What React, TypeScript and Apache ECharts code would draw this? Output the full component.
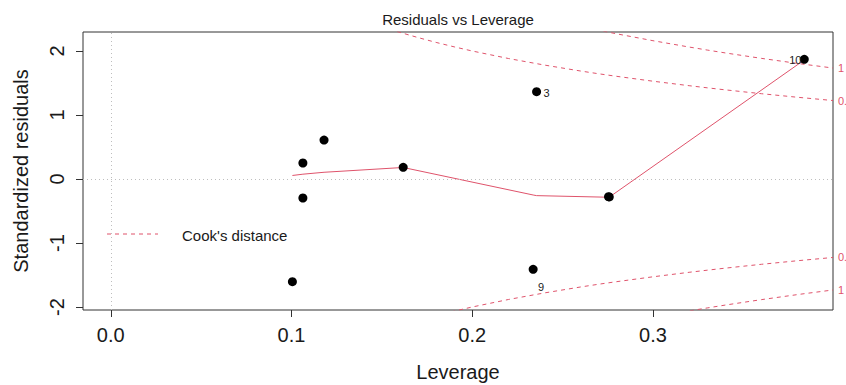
import React, { useEffect, useRef } from "react";
import * as echarts from "echarts";

// Observations (leverage, standardized residual), sorted by leverage
const leverage = [0.1005, 0.1063, 0.1063, 0.118, 0.1618, 0.2337, 0.2356, 0.2754, 0.2758, 0.3837];
const stdResid = [-1.605, 0.25, -0.297, 0.609, 0.183, -1.411, 1.364, -0.276, -0.28, 1.87];
const pointLabels = ["", "", "", "", "", "9", "3", "", "", "10"];

// Smoother (red solid line) vertices
const smoothX = [0.1005, 0.1063, 0.118, 0.1618, 0.2337, 0.2356, 0.2754, 0.2758, 0.3837];
const smoothY = [0.055, 0.075, 0.105, 0.18, -0.25, -0.26, -0.285, -0.284, 1.86];

// Cook's distance contours (upper halves) at 0.5 and 1
const cookH = [0.15, 0.16, 0.17, 0.18, 0.19, 0.2, 0.22, 0.24, 0.26, 0.27, 0.28, 0.3, 0.32, 0.33, 0.34, 0.36, 0.38, 0.3996];
const cook05 = [2.38, 2.291, 2.21, 2.134, 2.065, 2.0, 1.883, 1.78, 1.687, 1.644, 1.604, 1.528, 1.458, 1.425, 1.393, 1.333, 1.277, 1.226];
const cook1 = [3.366, 3.24, 3.125, 3.018, 2.92, 2.828, 2.663, 2.517, 2.386, 2.325, 2.268, 2.161, 2.062, 2.015, 1.97, 1.885, 1.806, 1.734];
const cookLevels = ["0.5", "1"];

// Axes
const xTicks = [0, 0.1, 0.2, 0.3];
const yTicks = [-2, -1, 0, 1, 2];
const X_MIN = -0.01536;
const X_MAX = 0.3996;
const Y_MIN = -2.047;
const Y_MAX = 2.297;

const title = "Residuals vs Leverage";
const xName = "Leverage";
const yName = "Standardized residuals";
const legendText = "Cook's distance";

const FONT = "'Liberation Sans', Arial, sans-serif";
const RED = "#DF536B";
const INK = "#1a1a1a";

const labelOffsets: Record<string, number[]> = {
  "9": [8, 18],
  "3": [10, 1],
  "10": [-9, 1],
};

export default function App() {
  const ref = useRef<HTMLDivElement>(null);
  useEffect(() => {
    if (!ref.current) return;
    const chart = echarts.init(ref.current, null, { renderer: "svg" });

    const points = leverage.map((h, i) => {
      const lab = pointLabels[i];
      const item: any = { value: [h, stdResid[i]] };
      if (lab) {
        item.label = {
          show: true,
          formatter: lab,
          position: "inside",
          offset: labelOffsets[lab],
          fontSize: 11,
          color: "#222",
          fontFamily: FONT,
        };
      }
      return item;
    });

    const cookSeries: any[] = [];
    [cook05, cook1].forEach((vals, k) => {
      [1, -1].forEach((sgn) => {
        cookSeries.push({
          type: "line",
          data: cookH.map((h, i) => [h, sgn * vals[i]]),
          showSymbol: false,
          symbol: "none",
          lineStyle: { color: RED, width: 1, type: [4, 4] },
          endLabel: {
            show: true,
            formatter: cookLevels[k],
            color: RED,
            fontSize: 11,
            fontFamily: FONT,
            distance: 5,
          },
          silent: true,
          z: 3,
        });
      });
    });

    const option: any = {
      animation: false,
      textStyle: { fontFamily: FONT },
      grid: {
        left: 83,
        top: 32,
        width: 750,
        height: 278,
        show: true,
        borderColor: "#333",
        borderWidth: 1,
        containLabel: false,
        outerBoundsMode: "none",
      },
      xAxis: {
        type: "value",
        min: X_MIN,
        max: X_MAX,
        axisLine: { show: false, onZero: false },
        splitLine: { show: false },
        axisTick: { show: true, customValues: xTicks, length: 7, lineStyle: { color: "#333" } },
        axisLabel: {
          customValues: xTicks,
          formatter: (v: number) => v.toFixed(1),
          fontSize: 20,
          color: INK,
          margin: 15,
          fontFamily: FONT,
        },
        name: xName,
        nameLocation: "middle",
        nameGap: 52,
        nameTextStyle: { fontSize: 20, color: INK, fontFamily: FONT },
      },
      yAxis: {
        type: "value",
        min: Y_MIN,
        max: Y_MAX,
        axisLine: { show: false, onZero: false },
        splitLine: { show: false },
        axisTick: { show: true, customValues: yTicks, length: 7, lineStyle: { color: "#333" } },
        axisLabel: {
          customValues: yTicks,
          formatter: (v: number) => String(v),
          rotate: 90,
          fontSize: 20,
          color: INK,
          margin: 16,
          fontFamily: FONT,
        },
        name: yName,
        nameLocation: "middle",
        nameGap: 52,
        nameTextStyle: { fontSize: 20, color: INK, fontFamily: FONT },
      },
      graphic: [
        {
          type: "text",
          x: 458,
          y: 19,
          style: {
            text: title,
            fontSize: 15,
            fill: INK,
            fontFamily: FONT,
            textAlign: "center",
            textVerticalAlign: "middle",
          },
        },
        {
          type: "line",
          shape: { x1: 107, y1: 234, x2: 158, y2: 234 },
          style: { stroke: RED, lineWidth: 1, lineDash: [4, 4] },
          z: 10,
        },
        {
          type: "text",
          x: 182,
          y: 235,
          style: {
            text: legendText,
            fontSize: 15,
            fill: INK,
            fontFamily: FONT,
            textAlign: "left",
            textVerticalAlign: "middle",
          },
          z: 10,
        },
      ],
      series: [
        {
          type: "line",
          data: smoothX.map((x, i) => [x, smoothY[i]]),
          showSymbol: false,
          symbol: "none",
          lineStyle: { color: RED, width: 1 },
          silent: true,
          z: 2,
        },
        {
          type: "scatter",
          data: points,
          symbol: "circle",
          symbolSize: 9,
          itemStyle: { color: "#000", opacity: 1 },
          z: 4,
          markLine: {
            silent: true,
            symbol: "none",
            label: { show: false },
            lineStyle: { color: "#BEBEBE", width: 1, type: [1, 3] },
            data: [{ xAxis: 0 }, { yAxis: 0 }],
          },
        },
        ...cookSeries,
      ],
    };
    chart.setOption(option);
    return () => chart.dispose();
  }, []);

  return (
    <div
      ref={ref}
      style={{ position: "fixed", left: 0, top: 0, width: 846, height: 385, background: "#fff" }}
    />
  );
}
